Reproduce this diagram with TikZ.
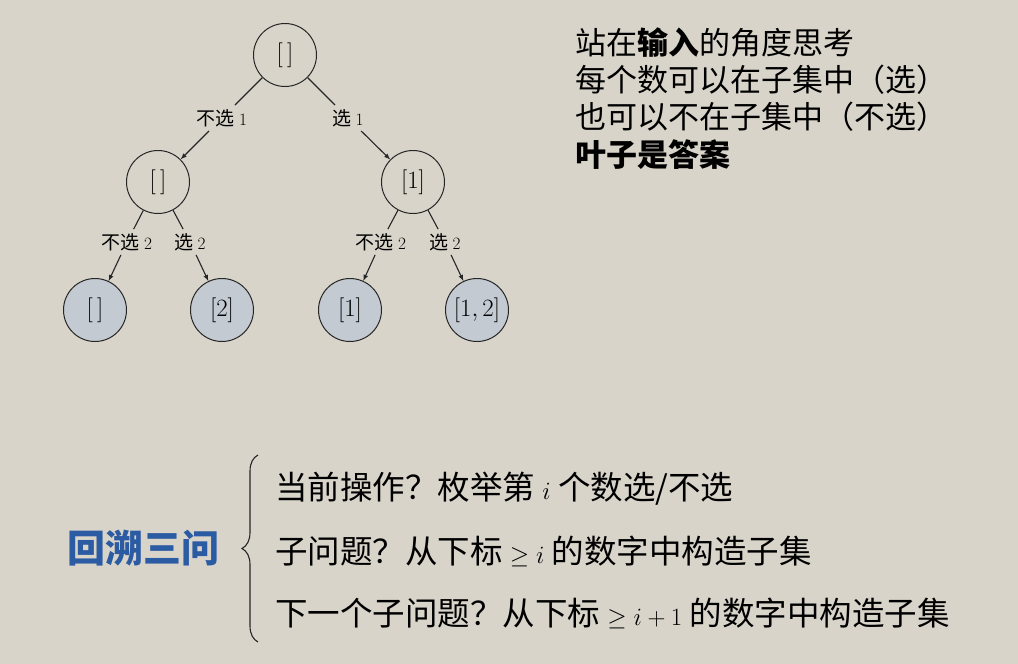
\documentclass[tikz,border=0pt]{standalone}
\usepackage{fontspec}
\usepackage{amsmath}
\newfontfamily\cjk{Noto Sans CJK SC}
\usetikzlibrary{decorations.pathreplacing}
\definecolor{bg}{HTML}{D8D4CA}
\definecolor{leaf}{HTML}{C4CAD2}
\definecolor{blu}{HTML}{2B5BA3}
\tikzset{
 nd/.style={circle,draw=black!85,line width=1pt,minimum size=63pt,inner sep=0pt,font=\fontsize{34}{34}\selectfont},
 lf/.style={nd,fill=leaf},
 lab/.style={font=\cjk\fontsize{19}{19}\selectfont,inner sep=4pt},
 ed/.style={line width=1.1pt,draw=black!85},
 ar/.style={ed,-latex},
 rt/.style={anchor=west,font=\cjk\fontsize{31}{34}\selectfont,inner sep=0pt},
 bt/.style={anchor=west,font=\cjk\fontsize{32.5}{34}\selectfont,inner sep=0pt}
}
\begin{document}
\begin{tikzpicture}[x=1pt,y=-1pt]
\fill[bg] (0,0) rectangle (1018,664);
\useasboundingbox (0,0) rectangle (1018,664);
\node[nd] (r) at (285,55) {$[\,]$};
\node[nd] (a) at (158,182) {$[\,]$};
\node[nd] (b) at (413,182) {$[1]$};
\node[lf] (l1) at (95,310) {$[\,]$};
\node[lf] (l2) at (222,310) {$[2]$};
\node[lf] (l3) at (350,310) {$[1]$};
\node[lf] (l4) at (477,310) {\fontsize{24}{24}\selectfont$[1,2]$};
\node[lab] (ra) at (222,118) {不选 $1$};
\node[lab] (rb) at (348,118) {选 $1$};
\node[lab] (a1) at (127,242) {不选 $2$};
\node[lab] (a2) at (190,242) {选 $2$};
\node[lab] (b1) at (381,242) {不选 $2$};
\node[lab] (b2) at (445,242) {选 $2$};
\draw[ed] (r) -- (ra); \draw[ar] (ra) -- (a);
\draw[ed] (r) -- (rb); \draw[ar] (rb) -- (b);
\draw[ed] (a) -- (a1); \draw[ar] (a1) -- (l1);
\draw[ed] (a) -- (a2); \draw[ar] (a2) -- (l2);
\draw[ed] (b) -- (b1); \draw[ar] (b1) -- (l3);
\draw[ed] (b) -- (b2); \draw[ar] (b2) -- (l4);
\node[rt] (t1) at (575,43) {站在\textbf{输入}的角度思考};
\node[rt] (t2) at (575,80) {每个数可以在子集中（选）};
\node[rt] (t3) at (575,117) {也可以不在子集中（不选）};
\node[rt] (t4) at (575,155) {\textbf{叶子是答案}};
\node[font=\cjk\bfseries\fontsize{38}{38}\selectfont,text=blu] (h) at (143,548) {回溯三问};
\coordinate (bt) at (258,455);
\coordinate (bb) at (258,642);
\draw[ed,decorate,decoration={brace,amplitude=16pt}] (bb) -- (bt);
\node[bt] (q1) at (275,489) {当前操作？枚举第 $i$ 个数选/不选};
\node[bt] (q2) at (275,551) {子问题？从下标 $\geq i$ 的数字中构造子集};
\node[bt] (q3) at (275,613) {下一个子问题？从下标 $\geq i+1$ 的数字中构造子集};
\end{tikzpicture}
\end{document}
